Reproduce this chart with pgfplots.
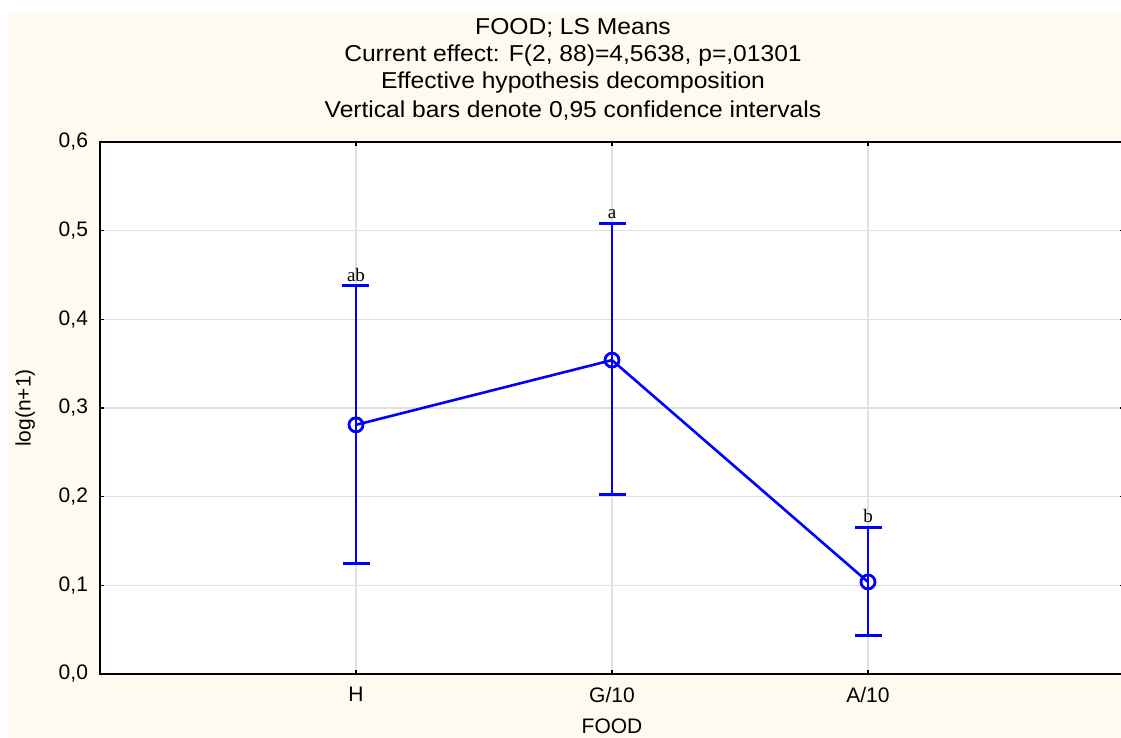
\documentclass[border=0pt]{standalone}
\usepackage{fontspec}
\setmainfont{Liberation Sans}
\newfontfamily\serifnote{Liberation Serif}
\usepackage{pgfplots}
\pgfplotsset{compat=1.18}
\definecolor{cream}{RGB}{255,250,240}
\definecolor{gridgray}{RGB}{224,224,224}

% 1 px of the reference = 0.5pt
\begin{document}
\begin{tikzpicture}
\useasboundingbox (0,0) rectangle (560.5pt,369pt);
\clip (0,0) rectangle (560.5pt,369pt);
\fill[white] (0,0) rectangle (560.5pt,369pt);
\fill[cream] (4pt,0) rectangle (560.5pt,362.5pt);

\tikzset{ttl/.style={font=\fontsize{11.5}{13}\selectfont, xscale=1.07, transform shape}}
\node[ttl] at (286.5pt,355pt) {FOOD; LS Means};
\node[ttl] at (286.5pt,341pt) {Current effect: F(2, 88)=4,5638, p=,01301};
\node[ttl] at (286.5pt,327.5pt) {Effective hypothesis decomposition};
\node[ttl] at (286.5pt,313.8pt) {Vertical bars denote 0,95 confidence intervals};

\begin{axis}[
  at={(50pt,32pt)}, anchor=south west,
  scale only axis, width=512pt, height=266pt,
  xmin=0, xmax=4, ymin=0, ymax=0.6,
  xtick={1,2,3}, xticklabels={H,G/10,A/10},
  ytick={0,0.1,...,0.6},
  axis background/.style={fill=white},
  axis line style={black, line width=1.1pt},
  tick style={black, line width=0.8pt},
  major tick length=2pt, tick align=inside,
  grid=major, major grid style={gridgray, line width=0.6pt},
  /pgf/number format/.cd, use comma, fixed, fixed zerofill, precision=1, assume math mode=true,
  /pgfplots/.cd,
  tick label style={font=\fontsize{10.5}{12}\selectfont},
  xticklabel style={yshift=-3pt},
  yticklabel style={xshift=-2.5pt},
  xlabel={FOOD}, ylabel={log(n+1)},
  label style={font=\fontsize{10.5}{12}\selectfont},
  xlabel style={at={(rel axis cs:0.5,-0.0985)}, anchor=center},
  ylabel style={at={(rel axis cs:-0.073,0.5)}, anchor=center},
]
\addplot[blue, line width=1.3pt, mark=o, mark size=3.5pt,
  mark options={line width=1.4pt},
  error bars/.cd, y dir=both, y explicit,
  error bar style={line width=1.3pt},
  error mark options={blue, line width=1.5pt, mark size=6.75pt, rotate=90}]
  coordinates {
  (1,0.281) += (0,0.1566) -= (0,0.156)
  (2,0.354) += (0,0.1546) -= (0,0.1521)
  (3,0.1038) += (0,0.0609) -= (0,0.0609)
  };
\node[font=\serifnote\fontsize{9.5}{11}\selectfont, anchor=south, inner sep=2.2pt] at (axis cs:1,0.4376) {ab};
\node[font=\serifnote\fontsize{9.5}{11}\selectfont, anchor=south, inner sep=2.2pt] at (axis cs:2,0.5086) {a};
\node[font=\serifnote\fontsize{9.5}{11}\selectfont, anchor=south, inner sep=2.2pt] at (axis cs:3,0.1647) {b};
\end{axis}
\end{tikzpicture}
\end{document}
